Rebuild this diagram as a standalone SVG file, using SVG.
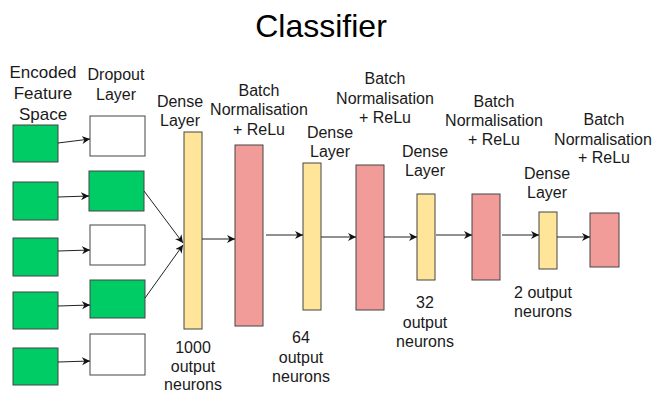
<svg xmlns="http://www.w3.org/2000/svg" width="652" height="394" viewBox="0 0 652 394">
<style>
text{font-family:"Liberation Sans",Arial,sans-serif;font-size:16px;fill:#1a1a1a;text-anchor:middle}
.title{font-size:32px;fill:#000}
.big{font-size:17px}
.g{fill:#00CC66;stroke:#444;stroke-width:1}
.w{fill:#fff;stroke:#444;stroke-width:1}
.y{fill:#FFE599;stroke:#444;stroke-width:1}
.p{fill:#F19C99;stroke:#444;stroke-width:1}
.c{stroke:#222;stroke-width:1;fill:none;marker-end:url(#ah)}
</style>
<defs>
<marker id="ah" viewBox="0 0 10 10" refX="10" refY="5" markerWidth="8" markerHeight="8" markerUnits="userSpaceOnUse" orient="auto">
<path d="M0,0 L10,5 L0,10 L3,5 Z" fill="#111"/>
</marker>
</defs>
<rect width="652" height="394" fill="#fff"/>
<text class="title" x="321" y="37">Classifier</text>

<g id="input-label"><text class="big" x="43" y="78">Encoded</text><text class="big" x="43" y="99">Feature</text><text class="big" x="43" y="120">Space</text></g>
<g id="dropout-label"><text x="116" y="80">Dropout</text><text x="116" y="100">Layer</text></g>

<g id="in1"><rect class="g" x="13" y="125" width="45" height="37"/></g>
<g id="in2"><rect class="g" x="13" y="182" width="45" height="38"/></g>
<g id="in3"><rect class="g" x="13" y="238" width="45" height="38"/></g>
<g id="in4"><rect class="g" x="13" y="292" width="45" height="37"/></g>
<g id="in5"><rect class="g" x="13" y="348" width="45" height="37"/></g>

<g id="do1"><rect class="w" x="90" y="116" width="55" height="40"/></g>
<g id="do2"><rect class="g" x="89" y="171" width="55" height="40"/></g>
<g id="do3"><rect class="w" x="90" y="225" width="55" height="40"/></g>
<g id="do4"><rect class="g" x="90" y="280" width="55" height="38"/></g>
<g id="do5"><rect class="w" x="90" y="334" width="55" height="41"/></g>

<g id="dense1"><text x="180" y="107">Dense</text><text x="180" y="126">Layer</text>
<rect class="y" x="184" y="132" width="18" height="197"/>
<text x="193" y="353">1000</text><text x="193" y="372">output</text><text x="193" y="390">neurons</text></g>

<g id="bn1"><text x="259" y="96">Batch</text><text x="259" y="115">Normalisation</text><text x="259" y="135">+ ReLu</text>
<rect class="p" x="235" y="145" width="28" height="181"/></g>

<g id="dense2"><text x="330" y="138">Dense</text><text x="330" y="157">Layer</text>
<rect class="y" x="303" y="163" width="18" height="147"/>
<text x="301" y="343">64</text><text x="301" y="363">output</text><text x="301" y="382">neurons</text></g>

<g id="bn2"><text x="385" y="84">Batch</text><text x="385" y="104">Normalisation</text><text x="385" y="123">+ ReLu</text>
<rect class="p" x="356" y="165" width="28" height="145"/></g>

<g id="dense3"><text x="425" y="157">Dense</text><text x="425" y="176">Layer</text>
<rect class="y" x="417" y="194" width="18" height="86"/>
<text x="425" y="308">32</text><text x="425" y="328">output</text><text x="425" y="347">neurons</text></g>

<g id="bn3"><text x="494" y="107">Batch</text><text x="494" y="126">Normalisation</text><text x="494" y="145">+ ReLu</text>
<rect class="p" x="472" y="194" width="28" height="86"/></g>

<g id="dense4"><text x="547" y="179">Dense</text><text x="547" y="198">Layer</text>
<rect class="y" x="539" y="212" width="18" height="57"/>
<text x="543" y="298">2 output</text><text x="543" y="317">neurons</text></g>

<g id="bn4"><text x="604" y="125">Batch</text><text x="603" y="145">Normalisation</text><text x="604" y="163">+ ReLu</text>
<rect class="p" x="590" y="213" width="29" height="54"/></g>

<g id="connectors">
<line class="c" x1="58" y1="143" x2="90" y2="139"/>
<line class="c" x1="58" y1="197" x2="89" y2="196"/>
<line class="c" x1="58" y1="251" x2="90" y2="250"/>
<line class="c" x1="58" y1="306" x2="90" y2="305"/>
<line class="c" x1="58" y1="362" x2="90" y2="361"/>
<line class="c" x1="144" y1="191" x2="183" y2="243"/>
<line class="c" x1="145" y1="298" x2="183" y2="245"/>
<line class="c" x1="202" y1="239" x2="235" y2="239"/>
<line class="c" x1="266" y1="235" x2="303" y2="235"/>
<line class="c" x1="321" y1="237" x2="356" y2="237"/>
<line class="c" x1="384" y1="237" x2="417" y2="237"/>
<line class="c" x1="436" y1="235" x2="472" y2="235"/>
<line class="c" x1="502" y1="235" x2="539" y2="235"/>
<line class="c" x1="557" y1="237" x2="590" y2="237"/>
</g>
</svg>
